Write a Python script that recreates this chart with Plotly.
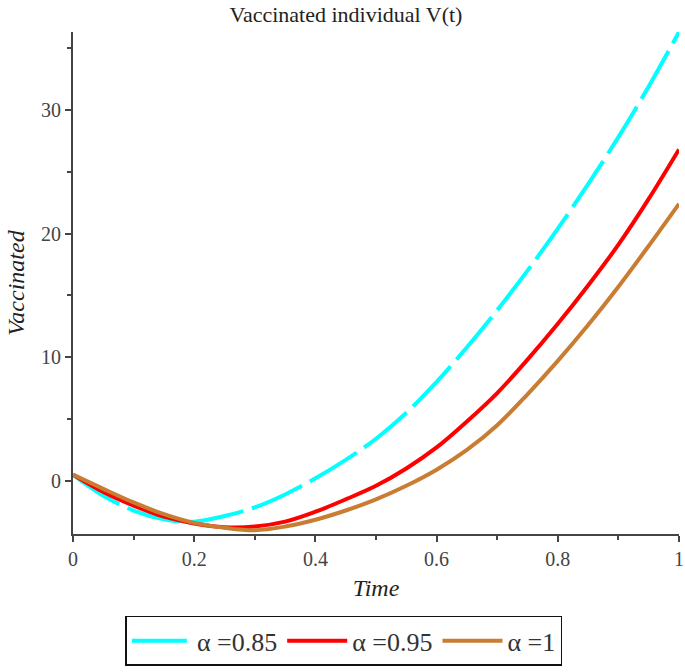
import plotly.graph_objects as go

t = [0.0, 0.05, 0.1, 0.15, 0.2, 0.25, 0.3, 0.35, 0.4, 0.45, 0.5,
     0.55, 0.6, 0.65, 0.7, 0.75, 0.8, 0.85, 0.9, 0.95, 1.0]

v_085 = [0.5, -1.2, -2.4, -3.1, -3.3, -2.85, -2.15, -1.1, 0.2, 1.7, 3.4,
         5.5, 8.0, 10.8, 13.8, 17.0, 20.4, 24.0, 27.8, 31.9, 36.3]
v_095 = [0.5, -0.9, -2.0, -2.9, -3.45, -3.75, -3.7, -3.3, -2.5, -1.5, -0.4,
         1.0, 2.7, 4.8, 7.1, 9.8, 12.7, 15.8, 19.1, 22.8, 26.8]
v_1 = [0.5, -0.65, -1.75, -2.7, -3.4, -3.8, -4.0, -3.7, -3.15, -2.4, -1.5,
       -0.4, 0.9, 2.5, 4.5, 7.0, 9.7, 12.6, 15.7, 19.0, 22.4]

x_tickvals = [0, 0.2, 0.4, 0.6, 0.8, 1]
x_ticktext = ["0", "0.2", "0.4", "0.6", "0.8", "1"]
y_tickvals = [0, 10, 20, 30]

labels = ["α =0.85", "α =0.95", "α =1"]
colors = ["#00FFFF", "#FF0000", "#C97D33"]

serif = "Liberation Serif, Times New Roman, serif"

fig = go.Figure()
fig.add_trace(go.Scatter(x=t, y=v_085, mode="lines", name=labels[0],
                         line=dict(color=colors[0], width=4, dash="55px,9px", shape="spline")))
fig.add_trace(go.Scatter(x=t, y=v_095, mode="lines", name=labels[1],
                         line=dict(color=colors[1], width=4, shape="spline")))
fig.add_trace(go.Scatter(x=t, y=v_1, mode="lines", name=labels[2],
                         line=dict(color=colors[2], width=4, shape="spline")))

fig.update_layout(
    width=685, height=672,
    paper_bgcolor="white", plot_bgcolor="white",
    margin=dict(l=73, r=6, t=32, b=130),
    title=dict(text="Vaccinated individual V(t)", x=0.505, xanchor="center",
               y=0.99, yanchor="top", pad=dict(t=0),
               font=dict(family=serif, size=22, color="#222")),
    font=dict(family=serif, size=20, color="#333"),
    showlegend=True,
    legend=dict(orientation="h", x=0.447, xanchor="center", y=-0.163, yanchor="top",
                bordercolor="#111", borderwidth=1.5, bgcolor="white",
                font=dict(family=serif, size=26, color="#333"),
                itemwidth=60, tracegroupgap=0),
)
fig.update_xaxes(
    range=[0, 1], showgrid=False, zeroline=False,
    showline=True, linecolor="#444", linewidth=2,
    ticks="outside", ticklen=6, tickcolor="#444", tickwidth=1.5,
    tickvals=x_tickvals, ticktext=x_ticktext,
    ticklabeloverflow="allow",
    minor=dict(tickvals=[0.1, 0.3, 0.5, 0.7, 0.9], ticks="outside", ticklen=4, tickcolor="#444"),
    title=dict(text="<i>Time</i>", font=dict(family=serif, size=24, color="#222"), standoff=10),
    tickfont=dict(family=serif, size=20, color="#444"),
    automargin=False,
)
fig.update_yaxes(
    range=[-4.3, 36.3], showgrid=False, zeroline=False,
    showline=True, linecolor="#444", linewidth=2,
    ticks="outside", ticklen=6, tickcolor="#444", tickwidth=1.5,
    tickvals=y_tickvals,
    minor=dict(tickvals=[5, 15, 25, 35], ticks="outside", ticklen=4, tickcolor="#444"),
    title=dict(text="<i>Vaccinated</i>", font=dict(family=serif, size=24, color="#222"), standoff=10),
    tickfont=dict(family=serif, size=20, color="#444"),
    automargin=False,
)

fig.write_html(
    "out.html",
    config={"displayModeBar": False},
    post_script="document.body.style.margin='0';document.body.style.overflow='hidden';",
)
